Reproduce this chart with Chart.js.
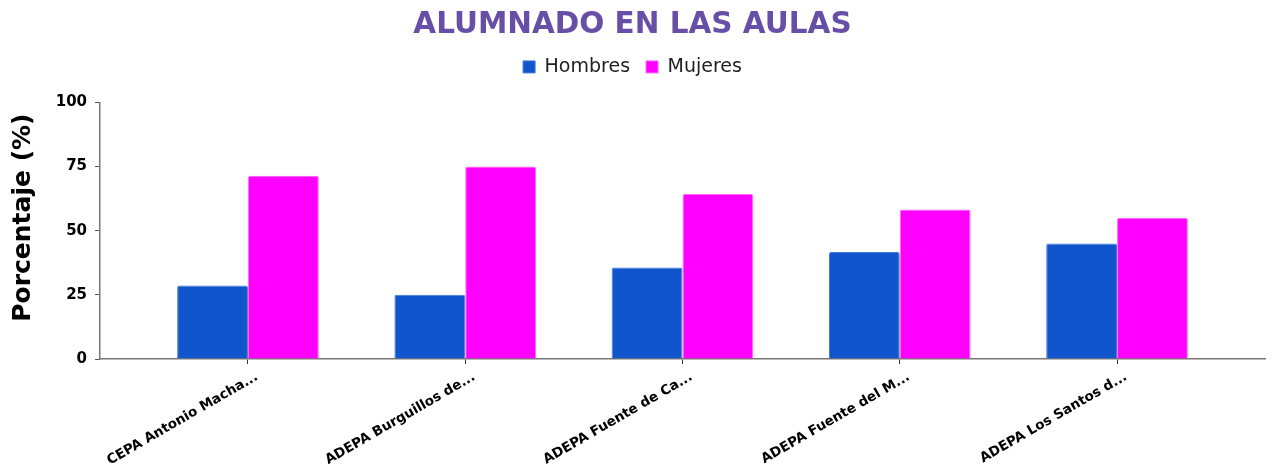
<!DOCTYPE html>
<html>
<head>
<meta charset="utf-8">
<script src="https://cdn.jsdelivr.net/npm/chart.js@4.4.1/dist/chart.umd.min.js"></script>
<style>
  html, body { margin: 0; padding: 0; background: #fff; }
  #wrap { width: 1272px; height: 468px; position: relative; }
</style>
</head>
<body>
<div id="wrap"><canvas id="c" width="1272" height="468"></canvas></div>
<script>
const categories = [
  'CEPA Antonio Macha...',
  'ADEPA Burguillos de...',
  'ADEPA Fuente de Ca...',
  'ADEPA Fuente del M...',
  'ADEPA Los Santos d...'
];
const hombres = [28.6, 25.0, 35.7, 41.7, 45.0];
const mujeres = [71.4, 75.0, 64.3, 58.3, 55.0];
const yTicks = [0, 25, 50, 75, 100];

const Base = Chart.CategoryScale;
class PaddedCategoryScale extends Base {
  buildTicks() {
    const t = super.buildTicks();
    const pad = this.options.edgePadding || 0;
    this._startValue -= pad;
    this._valueRange += 2 * pad;
    return t;
  }
}
PaddedCategoryScale.id = 'paddedCategory';
PaddedCategoryScale.defaults = Base.defaults;
Chart.register(PaddedCategoryScale);

Chart.defaults.font.family = '"DejaVu Sans", Verdana, sans-serif';

new Chart(document.getElementById('c'), {
  type: 'bar',
  data: {
    labels: categories,
    datasets: [
      { label: 'Hombres', data: hombres, backgroundColor: '#1155cc', borderColor: '#3f78dc', borderWidth: 1, borderRadius: 2, borderSkipped: 'bottom' },
      { label: 'Mujeres', data: mujeres, backgroundColor: '#ff00ff', borderColor: '#ff66ff', borderWidth: 1, borderRadius: 2, borderSkipped: 'bottom' }
    ]
  },
  options: {
    responsive: false,
    animation: false,
    layout: { padding: { left: 0, right: 7, top: 0, bottom: 0 } },
    datasets: { bar: { categoryPercentage: 0.652, barPercentage: 1.0 } },
    plugins: {
      title: {
        display: true,
        text: 'ALUMNADO EN LAS AULAS',
        color: '#674ea7',
        font: { size: 29.5, weight: 'bold' },
        padding: { top: 8, bottom: -2 }
      },
      legend: {
        display: true,
        labels: {
          boxWidth: 12, boxHeight: 12, padding: 16,
          color: '#222',
          font: { size: 19 }
        }
      },
      tooltip: { enabled: false }
    },
    scales: {
      x: {
        type: 'paddedCategory',
        edgePadding: 0.181,
        offset: true,
        grid: { offset: false, drawOnChartArea: false, tickLength: 5, color: '#333' },
        border: { color: '#777', width: 1.5 },
        ticks: {
          autoSkip: false, maxRotation: 30, minRotation: 30, labelOffset: 9,
          color: '#000', font: { size: 13.5, weight: 'bold' }, padding: 5
        },
        afterFit: (s) => { s.height = 109; }
      },
      xTop: {
        type: 'category',
        position: 'top',
        grid: { display: false },
        border: { display: false },
        ticks: { display: false },
        afterFit: (s) => { s.height = 16; }
      },
      y: {
        min: 0, max: 100,
        afterBuildTicks: (s) => { s.ticks = yTicks.map(v => ({ value: v })); },
        grid: { drawOnChartArea: false, tickLength: 5, color: '#555' },
        border: { color: '#777', width: 1.5 },
        ticks: { color: '#000', font: { size: 15, weight: 'bold' }, padding: 8 },
        title: {
          display: true, text: '   Porcentaje (%)', color: '#000',
          font: { size: 25, weight: 'bold' }, padding: { top: 8, bottom: 0 }
        },
        afterFit: (s) => { s.width = 100; }
      }
    }
  }
});
</script>
</body>
</html>
